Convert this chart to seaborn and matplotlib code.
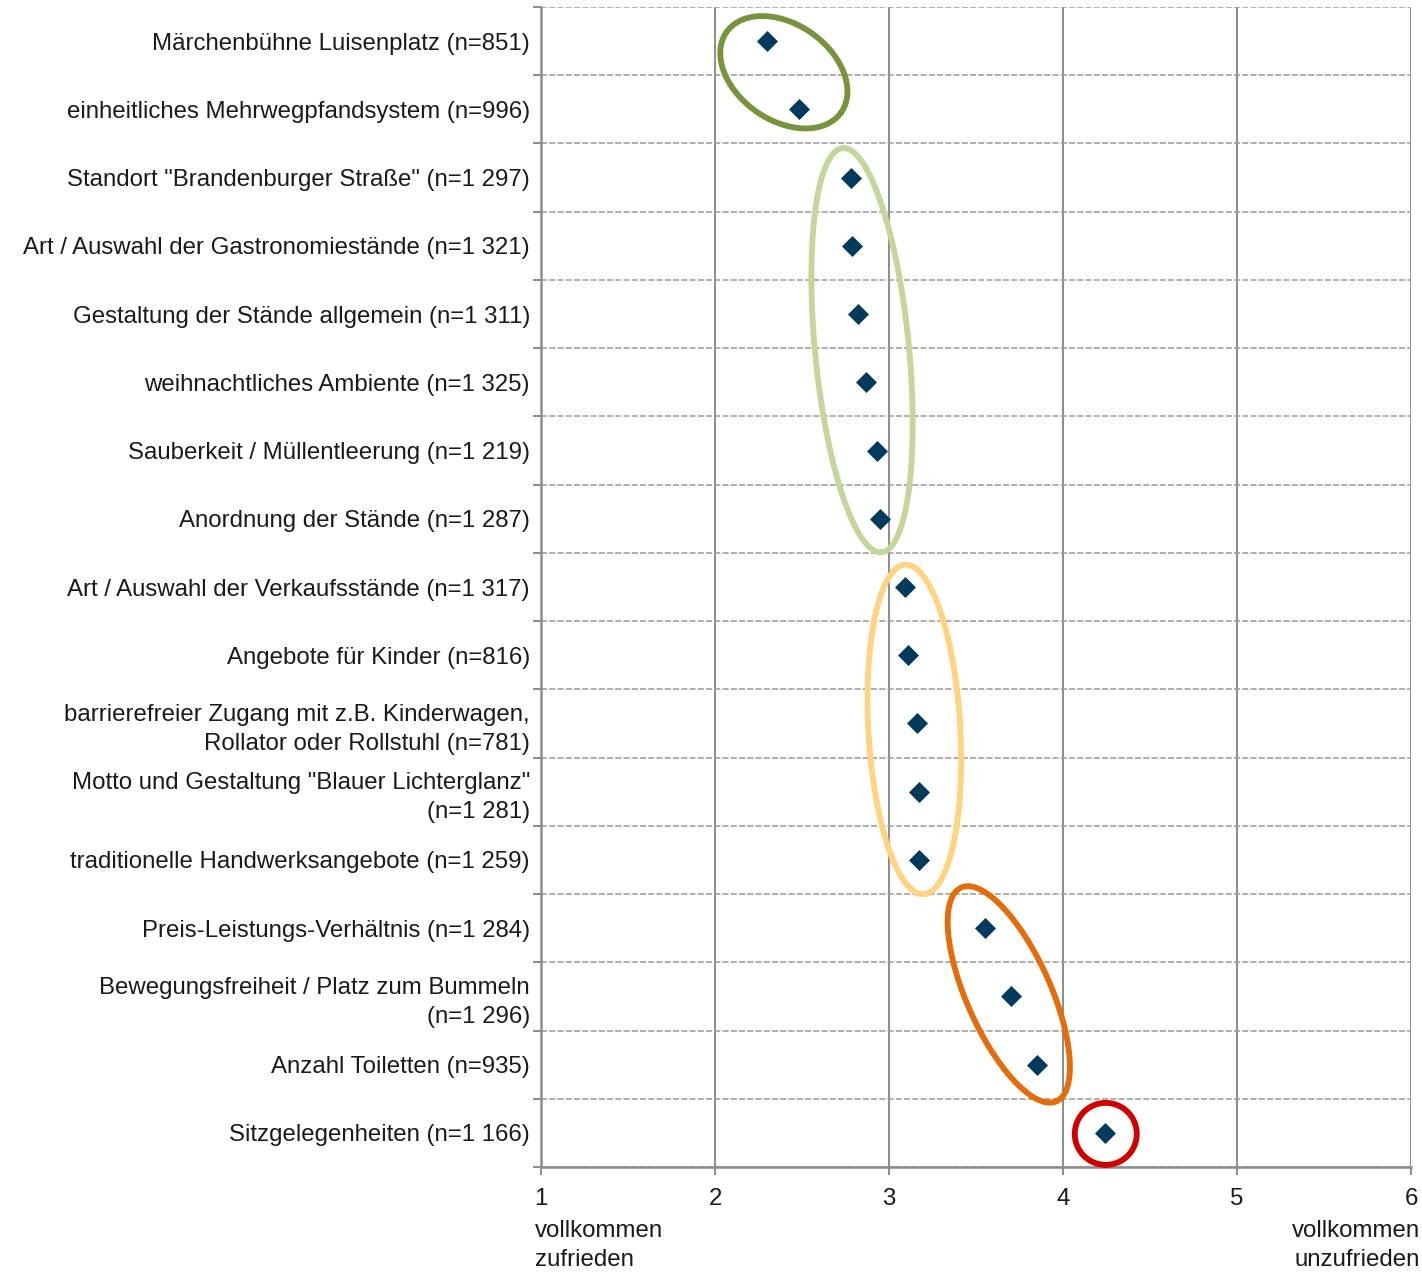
import numpy as np
import pandas as pd
import matplotlib
matplotlib.use("Agg")
import matplotlib.pyplot as plt
import seaborn as sns
from matplotlib.ticker import FixedLocator

# Items (top to bottom) and mean ratings (1 = very satisfied, 6 = very dissatisfied)
labels = [
    "Märchenbühne Luisenplatz (n=851)",
    "einheitliches Mehrwegpfandsystem (n=996)",
    'Standort "Brandenburger Straße" (n=1 297)',
    "Art / Auswahl der Gastronomiestände (n=1 321)",
    "Gestaltung der Stände allgemein (n=1 311)",
    "weihnachtliches Ambiente (n=1 325)",
    "Sauberkeit / Müllentleerung (n=1 219)",
    "Anordnung der Stände (n=1 287)",
    "Art / Auswahl der Verkaufsstände (n=1 317)",
    "Angebote für Kinder (n=816)",
    "barrierefreier Zugang mit z.B. Kinderwagen,\nRollator oder Rollstuhl (n=781)",
    'Motto und Gestaltung "Blauer Lichterglanz"\n(n=1 281)',
    "traditionelle Handwerksangebote (n=1 259)",
    "Preis-Leistungs-Verhältnis (n=1 284)",
    "Bewegungsfreiheit / Platz zum Bummeln\n(n=1 296)",
    "Anzahl Toiletten (n=935)",
    "Sitzgelegenheiten (n=1 166)",
]
scores = [2.30, 2.48, 2.78, 2.79, 2.82, 2.87, 2.93, 2.95,
          3.09, 3.11, 3.16, 3.17, 3.17, 3.55, 3.70, 3.85, 4.24]

x_ticks = [1, 2, 3, 4, 5, 6]
left_end = "vollkommen\nzufrieden"
right_end = "vollkommen\nunzufrieden"

# groups circled in the chart: (row indices, colour)
groups = [
    ([0, 1], "#77933C"),
    ([2, 3, 4, 5, 6, 7], "#C3D69B"),
    ([8, 9, 10, 11, 12], "#FFD380"),
    ([13, 14, 15], "#E46C0A"),
    ([16], "#D00000"),
]
# ellipse shape in pixels: semi-major, semi-minor, tilt from vertical (deg), offset dx, dy(down)
ellipse_shape = [
    (70, 48, 55, 1, -3),
    (203, 47, 5.5, -2, 2),
    (165, 46, 3.2, 1, 6),
    (117, 42, 24, -2, -2),
    (31, 31, 0, 1, 1),
]

df = pd.DataFrame({"item": labels, "score": scores})

sns.set_style("white")
plt.rcParams["font.family"] = ["Liberation Sans", "DejaVu Sans"]

FS = 17.3
W, H = 1422, 1272
fig = plt.figure(figsize=(W / 100, H / 100), dpi=100)
ax = fig.add_axes([541 / W, 1 - 1167 / H, 870 / W, 1160 / H])

sns.stripplot(data=df, x="score", y="item", orient="h", jitter=False,
              marker="D", size=10.7, color="#003A5C", linewidth=0,
              ax=ax, zorder=5)

n = len(labels)
ax.set_xlim(1, 6)
ax.set_ylim(n - 0.5, -0.5)
ax.set_xticks(x_ticks)
ax.set_xticklabels([str(t) for t in x_ticks])
ax.set_xlabel("")
ax.set_ylabel("")

grey = "#8C8C8C"
ax.yaxis.set_minor_locator(FixedLocator(np.arange(-0.5, n, 1.0)))
ax.grid(False)
ax.xaxis.grid(True, which="major", color=grey, linewidth=1.4, zorder=1)
ax.yaxis.grid(True, which="minor", color="#9A9A9A", linewidth=1.1,
              linestyle=(0, (4, 1.4)), zorder=1)
ax.set_axisbelow(True)

ax.tick_params(axis="y", which="major", length=0, pad=8, labelsize=FS,
               labelcolor="#1A1A1A")
ax.tick_params(axis="y", which="minor", length=6, width=1.4, color=grey,
               left=True)
ax.tick_params(axis="x", which="major", length=6, width=1.4, color=grey,
               bottom=True, pad=9, labelsize=FS, labelcolor="#1A1A1A")
for lbl in ax.get_yticklabels():
    lbl.set_linespacing(1.4)

for side in ["top", "right"]:
    ax.spines[side].set_visible(False)
for side in ["left", "bottom"]:
    ax.spines[side].set_color(grey)
    ax.spines[side].set_linewidth(1.8)

ax.annotate(left_end, xy=(x_ticks[0], 0), xycoords=("data", "axes fraction"),
            xytext=(-4.3, -38), textcoords="offset points", ha="left", va="top",
            fontsize=FS, color="#1A1A1A", linespacing=1.45)
ax.annotate(right_end, xy=(x_ticks[-1], 0), xycoords=("data", "axes fraction"),
            xytext=(6.5, -38), textcoords="offset points", ha="right", va="top",
            fontsize=FS, color="#1A1A1A", linespacing=1.45, annotation_clip=False)

# ellipses drawn in pixel space around each group, converted back to data coords
t = np.linspace(0, 2 * np.pi, 400)
for (idx, col), (a, b, phi, dx, dy) in zip(groups, ellipse_shape):
    pts = ax.transData.transform(np.column_stack([[scores[i] for i in idx], idx]))
    cx, cy = pts.mean(axis=0)
    cx, cy = cx + dx, cy - dy
    ph = np.deg2rad(phi)
    u = np.array([np.sin(ph), -np.cos(ph)])
    v = np.array([np.cos(ph), np.sin(ph)])
    xs = cx + a * np.cos(t) * u[0] + b * np.sin(t) * v[0]
    ys = cy + a * np.cos(t) * u[1] + b * np.sin(t) * v[1]
    d = ax.transData.inverted().transform(np.column_stack([xs, ys]))
    ax.plot(d[:, 0], d[:, 1], color=col, linewidth=4.2, zorder=4, clip_on=False)

ax.set_xlim(1, 6)
ax.set_ylim(n - 0.5, -0.5)

fig.savefig("out.png", dpi=100)
